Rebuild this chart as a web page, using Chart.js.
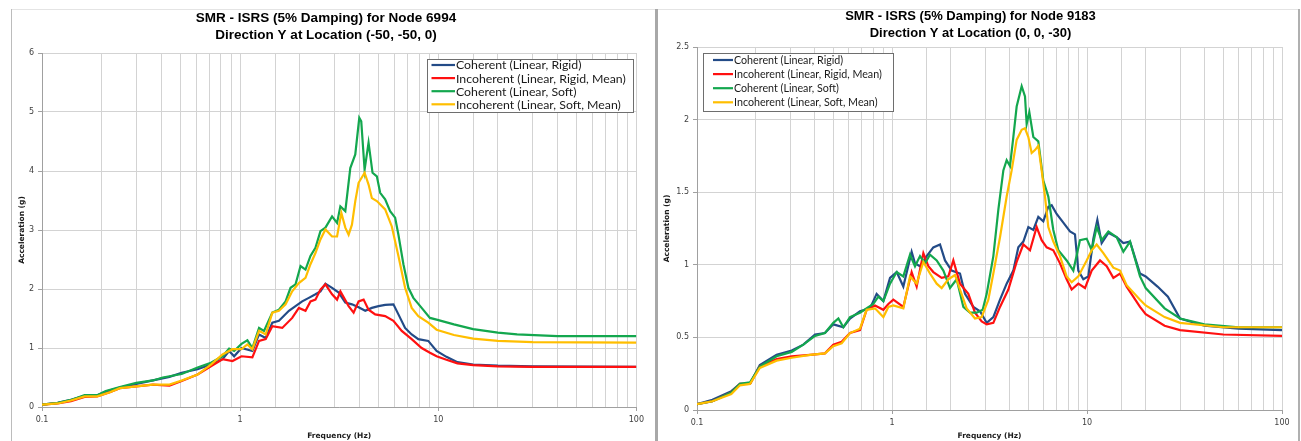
<!DOCTYPE html>
<html>
<head>
<meta charset="utf-8">
<script src="https://cdn.jsdelivr.net/npm/chart.js@4.4.0/dist/chart.umd.min.js"></script>
<style>
  html, body { margin: 0; padding: 0; background: #fff; width: 1301px; height: 441px; overflow: hidden; position: relative; }
  .rule { position: absolute; }
  canvas { position: absolute; }
</style>
</head>
<body>
<div class="rule" style="left:11px;top:9px;width:1289px;height:1px;background:#e4e4e4"></div>
<div class="rule" style="left:11px;top:9px;width:1px;height:432px;background:#bcbcbc"></div>
<div class="rule" style="left:655px;top:9px;width:3px;height:432px;background:#a8a8a8"></div>
<div class="rule" style="left:1298px;top:9px;width:2px;height:432px;background:#b0b0b0"></div>
<canvas id="node6994" width="636" height="437" style="left:12px;top:4px"></canvas>
<canvas id="node9183" width="638" height="437" style="left:659px;top:4px"></canvas>
<script>
// ---- Series labels and colours ----
const seriesLabels = [
  'Coherent (Linear, Rigid)',
  'Incoherent (Linear, Rigid, Mean)',
  'Coherent (Linear, Soft)',
  'Incoherent (Linear, Soft, Mean)'
];
const seriesColors = ['#234B87', '#FF1010', '#13A74E', '#FFBE00'];

// ---- Node 6994, direction Y at (-50, -50, 0): [frequency Hz, acceleration g] ----
const n6994CoherentRigid = [
  [0.1,0.04],[0.12,0.07],[0.14,0.12],[0.164,0.19],[0.19,0.20],[0.21,0.26],[0.247,0.33],[0.363,0.45],
  [0.44,0.51],[0.507,0.58],[0.61,0.64],[0.712,0.72],[0.815,0.81],[0.88,0.95],[0.933,0.86],[1.016,1.00],
  [1.153,0.95],[1.246,1.23],[1.346,1.17],[1.454,1.43],[1.57,1.46],[1.763,1.63],[1.904,1.71],[2.057,1.79],
  [2.222,1.85],[2.40,1.91],[2.543,1.96],[2.695,2.09],[2.911,2.02],[3.145,1.94],[3.396,1.77],[3.668,1.74],
  [3.963,1.69],[4.281,1.63],[4.624,1.68],[4.995,1.71],[5.395,1.73],[5.94,1.74],[6.295,1.57],[6.801,1.34],
  [7.345,1.23],[7.934,1.15],[8.906,1.12],[9.809,0.95],[11,0.85],[12.5,0.76],[15,0.72],[20,0.70],
  [30,0.69],[100,0.68]
];
const n6994IncoherentRigid = [
  [0.1,0.04],[0.12,0.06],[0.14,0.10],[0.164,0.17],[0.19,0.18],[0.22,0.25],[0.247,0.32],[0.363,0.38],
  [0.44,0.36],[0.507,0.44],[0.61,0.55],[0.712,0.69],[0.815,0.81],[0.915,0.78],[1.016,0.86],[1.153,0.84],
  [1.246,1.12],[1.346,1.15],[1.454,1.37],[1.632,1.34],[1.832,1.51],[1.979,1.68],[2.138,1.63],[2.265,1.79],
  [2.40,1.82],[2.543,1.99],[2.695,2.08],[2.911,1.91],[3.085,1.82],[3.206,1.96],[3.529,1.71],[3.74,1.60],
  [3.963,1.79],[4.2,1.82],[4.449,1.65],[4.806,1.57],[5.395,1.54],[5.94,1.46],[6.543,1.29],[7.345,1.15],
  [8.247,1.00],[9.081,0.92],[9.809,0.86],[11,0.80],[12.5,0.74],[15,0.71],[20,0.69],[30,0.68],[100,0.68]
];
const n6994CoherentSoft = [
  [0.1,0.04],[0.12,0.07],[0.14,0.12],[0.164,0.20],[0.19,0.20],[0.21,0.27],[0.247,0.34],[0.299,0.41],
  [0.363,0.45],[0.407,0.50],[0.507,0.56],[0.61,0.67],[0.712,0.75],[0.815,0.86],[0.88,0.99],[0.933,0.95],
  [1.016,1.07],[1.088,1.13],[1.153,1.00],[1.246,1.34],[1.32,1.29],[1.454,1.60],[1.57,1.65],[1.696,1.79],
  [1.797,2.02],[1.904,2.08],[2.018,2.39],[2.138,2.33],[2.265,2.56],[2.40,2.70],[2.543,2.98],[2.695,3.04],
  [2.911,3.23],[3.085,3.12],[3.206,3.40],[3.396,3.32],[3.598,4.05],[3.813,4.28],[3.994,4.90],[4.087,4.84],
  [4.249,4.02],[4.449,4.48],[4.66,3.97],[4.899,3.91],[5.092,3.63],[5.395,3.52],[5.717,3.32],[6.058,3.21],
  [6.295,2.92],[6.671,2.42],[7.068,2.02],[7.489,1.85],[8.247,1.68],[9.081,1.51],[9.809,1.48],[12,1.40],
  [15,1.32],[20,1.26],[25,1.23],[40,1.20],[100,1.20]
];
const n6994IncoherentSoft = [
  [0.1,0.04],[0.12,0.06],[0.14,0.11],[0.164,0.18],[0.19,0.18],[0.22,0.25],[0.247,0.32],[0.363,0.38],
  [0.44,0.38],[0.507,0.45],[0.61,0.55],[0.712,0.72],[0.815,0.89],[0.915,0.98],[1.016,0.98],[1.088,1.06],
  [1.153,0.98],[1.246,1.29],[1.346,1.23],[1.454,1.60],[1.57,1.63],[1.696,1.74],[1.832,1.96],[1.979,2.10],
  [2.138,2.19],[2.265,2.42],[2.40,2.61],[2.543,2.84],[2.695,3.01],[2.911,2.89],[3.085,2.89],[3.243,3.29],
  [3.396,3.04],[3.529,2.92],[3.668,3.09],[3.813,3.49],[3.963,3.80],[4.249,3.97],[4.449,3.77],[4.624,3.54],
  [4.899,3.49],[5.395,3.35],[5.829,3.06],[6.295,2.56],[6.801,2.02],[7.345,1.68],[7.934,1.54],[8.906,1.43],
  [9.809,1.31],[12,1.22],[15,1.16],[20,1.12],[30,1.10],[100,1.09]
];

// ---- Node 9183, direction Y at (0, 0, -30): [frequency Hz, acceleration g] ----
const n9183CoherentRigid = [
  [0.1,0.04],[0.12,0.07],[0.15,0.13],[0.166,0.18],[0.187,0.18],[0.21,0.31],[0.256,0.38],[0.306,0.41],
  [0.351,0.45],[0.403,0.52],[0.453,0.53],[0.50,0.59],[0.563,0.57],[0.609,0.63],[0.685,0.68],[0.771,0.70],
  [0.834,0.80],[0.903,0.75],[0.977,0.91],[1.057,0.95],[1.143,0.85],[1.261,1.09],[1.312,1.01],[1.392,0.99],
  [1.506,1.06],[1.629,1.12],[1.763,1.14],[1.87,1.03],[2.023,0.96],[2.232,0.94],[2.368,0.80],[2.613,0.71],
  [2.827,0.68],[3.059,0.60],[3.309,0.64],[3.58,0.76],[3.873,0.87],[4.19,0.96],[4.444,1.12],[4.716,1.16],
  [5.002,1.26],[5.306,1.24],[5.628,1.33],[5.97,1.30],[6.333,1.40],[6.587,1.41],[6.989,1.35],[7.561,1.29],
  [8.18,1.23],[8.677,1.21],[9.026,0.96],[9.576,0.90],[10.16,0.92],[10.78,1.18],[11.3,1.31],[11.89,1.15],
  [12.87,1.22],[14.2,1.19],[15.36,1.15],[16.62,1.16],[18.7,0.94],[20,0.92],[23,0.85],[26,0.78],
  [30,0.63],[40,0.58],[60,0.56],[100,0.55]
];
const n9183IncoherentRigid = [
  [0.1,0.04],[0.12,0.06],[0.15,0.12],[0.166,0.18],[0.187,0.18],[0.21,0.30],[0.256,0.35],[0.306,0.37],
  [0.38,0.38],[0.453,0.39],[0.50,0.45],[0.552,0.47],[0.609,0.53],[0.685,0.55],[0.741,0.69],[0.818,0.72],
  [0.903,0.69],[0.958,0.73],[1.016,0.76],[1.143,0.71],[1.261,0.95],[1.338,0.85],[1.448,1.08],[1.536,0.99],
  [1.629,0.95],[1.798,0.91],[1.945,0.92],[2.063,1.03],[2.232,0.87],[2.463,0.80],[2.665,0.67],[2.883,0.61],
  [3.059,0.59],[3.309,0.60],[3.58,0.71],[3.95,0.83],[4.358,1.02],[4.716,1.14],[5.101,1.10],[5.519,1.26],
  [5.854,1.17],[6.21,1.12],[6.718,1.10],[7.269,1.01],[7.864,0.90],[8.343,0.83],[9.026,0.87],[9.766,0.84],
  [10.57,0.96],[11.66,1.03],[12.62,0.99],[13.65,0.91],[14.77,0.94],[15.97,0.85],[18.7,0.71],[20,0.66],
  [25,0.58],[30,0.55],[50,0.52],[100,0.51]
];
const n9183CoherentSoft = [
  [0.1,0.04],[0.12,0.06],[0.15,0.12],[0.166,0.18],[0.187,0.19],[0.21,0.30],[0.256,0.37],[0.306,0.40],
  [0.351,0.45],[0.403,0.51],[0.453,0.53],[0.50,0.60],[0.531,0.63],[0.563,0.57],[0.609,0.64],[0.685,0.67],
  [0.802,0.73],[0.851,0.78],[0.903,0.75],[0.977,0.87],[1.057,0.95],[1.143,0.92],[1.237,1.07],[1.312,0.99],
  [1.392,1.06],[1.476,1.01],[1.566,1.07],[1.695,1.03],[1.834,0.96],[1.984,0.84],[2.146,0.90],[2.322,0.71],
  [2.512,0.67],[2.718,0.67],[2.917,0.69],[3.059,0.80],[3.309,1.06],[3.511,1.38],[3.724,1.65],[3.873,1.72],
  [4.028,1.68],[4.19,1.88],[4.358,2.09],[4.624,2.23],[4.809,2.16],[4.905,1.97],[5.062,2.05],[5.306,1.88],
  [5.628,1.85],[5.97,1.58],[6.333,1.47],[6.718,1.24],[7.128,1.10],[7.864,1.03],[8.509,0.96],[9.206,1.17],
  [9.961,1.18],[10.57,1.10],[11.21,1.26],[11.89,1.17],[12.87,1.23],[14.2,1.19],[15.36,1.09],[16.62,1.16],
  [18.7,0.92],[20,0.84],[25,0.70],[30,0.63],[40,0.59],[60,0.57],[100,0.57]
];
const n9183IncoherentSoft = [
  [0.1,0.04],[0.12,0.06],[0.15,0.11],[0.166,0.17],[0.187,0.18],[0.21,0.29],[0.256,0.34],[0.306,0.36],
  [0.38,0.38],[0.453,0.39],[0.50,0.44],[0.552,0.46],[0.609,0.53],[0.685,0.56],[0.741,0.69],[0.818,0.70],
  [0.903,0.64],[0.958,0.71],[1.016,0.72],[1.143,0.70],[1.237,0.92],[1.338,0.87],[1.448,1.02],[1.566,0.94],
  [1.695,0.87],[1.798,0.84],[1.945,0.90],[2.104,0.93],[2.232,0.83],[2.415,0.70],[2.665,0.63],[2.883,0.64],
  [3.119,0.76],[3.309,0.94],[3.58,1.19],[3.873,1.47],[4.108,1.65],[4.358,1.86],[4.624,1.93],[4.809,1.94],
  [5.002,1.88],[5.202,1.77],[5.411,1.79],[5.628,1.82],[5.854,1.65],[6.089,1.47],[6.333,1.26],[6.718,1.16],
  [7.269,1.06],[7.864,0.92],[8.343,0.88],[9.026,0.92],[9.961,1.03],[10.57,1.10],[11.21,1.14],[12.13,1.08],
  [13.65,0.98],[14.77,0.96],[15.97,0.86],[18.7,0.76],[20,0.72],[25,0.64],[30,0.60],[50,0.57],[100,0.57]
];

// ---- Axis settings ----
const freqMin = 0.1, freqMax = 100;
const freqLabelled = [0.1, 1, 10, 100];
const n6994AccMax = 6, n6994AccStep = 1;
const n9183AccMax = 2.5, n9183AccStep = 0.5;

Chart.defaults.font.family = "'DejaVu Sans', sans-serif";
Chart.defaults.color = '#404040';

// Boxed legend drawn inside the plot area, one row per dataset.
const boxLegend = {
  id: 'boxLegend',
  afterDatasetsDraw(chart, args, o) {
    const ctx = chart.ctx;
    ctx.save();
    ctx.fillStyle = '#ffffff';
    ctx.fillRect(o.x, o.y, o.w, o.h);
    ctx.strokeStyle = '#6e6e6e';
    ctx.lineWidth = 1;
    ctx.strokeRect(o.x + 0.5, o.y + 0.5, o.w, o.h);
    // fit the font so the longest label spans the requested width
    let size = 10;
    ctx.font = size + "px Lato, 'Open Sans', sans-serif";
    const longest = Math.max(...chart.data.datasets.map(d => ctx.measureText(d.label).width));
    size = size * o.textWidth / longest;
    ctx.font = size + "px Lato, 'Open Sans', sans-serif";
    ctx.textBaseline = 'middle';
    ctx.textAlign = 'left';
    chart.data.datasets.forEach((ds, i) => {
      const y = o.y + o.firstRow + i * o.rowH;
      ctx.strokeStyle = ds.borderColor;
      ctx.lineWidth = 2.2;
      ctx.beginPath();
      ctx.moveTo(o.lineX0, y);
      ctx.lineTo(o.lineX1, y);
      ctx.stroke();
      ctx.fillStyle = '#1a1a1a';
      ctx.fillText(ds.label, o.textX, y + 0.5);
    });
    ctx.restore();
  }
};

function isDecade(v) {
  const l = Math.log10(v);
  return Math.abs(l - Math.round(l)) < 1e-6;
}

function buildChart(canvasId, cfg) {
  const drawOrder = [3, 2, 1, 0]; // later series sit on top
  const datasets = cfg.series.map((pts, i) => ({
    label: seriesLabels[i],
    data: pts.map(p => ({ x: p[0], y: p[1] })),
    borderColor: seriesColors[i],
    backgroundColor: seriesColors[i],
    borderWidth: 2.2,
    pointRadius: 0,
    tension: 0,
    order: drawOrder[i]
  }));
  return new Chart(document.getElementById(canvasId), {
    type: 'line',
    data: { datasets },
    plugins: [boxLegend],
    options: {
      responsive: false,
      animation: false,
      devicePixelRatio: 1,
      layout: { padding: { left: 0, right: cfg.padRight, top: 0, bottom: 0 } },
      plugins: {
        legend: { display: false },
        tooltip: { enabled: false },
        title: {
          display: true,
          text: cfg.title,
          color: '#000',
          font: { family: "'Liberation Sans', Arial, sans-serif", size: cfg.titleSize, weight: 'bold', lineHeight: cfg.titleLine },
          padding: { top: cfg.titlePadTop, bottom: cfg.titlePadBottom }
        },
        boxLegend: cfg.legend
      },
      scales: {
        x: {
          type: 'logarithmic',
          min: freqMin,
          max: freqMax,
          afterFit: s => { s.height = cfg.xAxisHeight; },
          border: { color: '#a0a0a0' },
          grid: {
            color: '#d3d3d3',
            lineWidth: 1,
            tickLength: 4,
            tickColor: c => (c.tick && isDecade(c.tick.value)) ? '#a0a0a0' : 'rgba(0,0,0,0)'
          },
          ticks: {
            autoSkip: false,
            maxRotation: 0,
            padding: 4,
            font: { size: 8 },
            callback: v => freqLabelled.some(d => Math.abs(d - v) < 1e-9) ? String(v) : ''
          },
          title: {
            display: true,
            text: 'Frequency (Hz)',
            color: '#1a1a1a',
            font: { size: 7.5, weight: 'bold' },
            padding: { top: 0, bottom: 0.5 }
          }
        },
        y: {
          min: 0,
          max: cfg.yMax,
          afterFit: s => { s.width = cfg.yAxisWidth; },
          border: { color: '#a0a0a0' },
          grid: { color: '#d3d3d3', lineWidth: 1, tickLength: 4, tickColor: '#a0a0a0' },
          ticks: {
            stepSize: cfg.yStep,
            padding: 4,
            font: { size: 8 },
            callback: v => String(Math.round(v * 100) / 100)
          },
          title: {
            display: true,
            text: 'Acceleration (g)',
            color: '#1a1a1a',
            font: { size: 7.5, weight: 'bold' },
            padding: { top: cfg.yTitlePad, bottom: 0 }
          }
        }
      }
    }
  });
}

buildChart('node6994', {
  title: ['SMR - ISRS (5% Damping) for Node 6994', 'Direction Y at Location (-50, -50, 0)'],
  series: [n6994CoherentRigid, n6994IncoherentRigid, n6994CoherentSoft, n6994IncoherentSoft],
  yMax: n6994AccMax, yStep: n6994AccStep,
  titleSize: 13.5, titleLine: 17 / 13.5, titlePadTop: 5.5, titlePadBottom: 9.5,
  yAxisWidth: 30, xAxisHeight: 34, padRight: 8, yTitlePad: 5.2,
  legend: { x: 415, y: 55, w: 206, h: 53, firstRow: 6, rowH: 13.1, lineX0: 419.5, lineX1: 443, textX: 444, textWidth: 170 }
});

buildChart('node9183', {
  title: ['SMR - ISRS (5% Damping) for Node 9183', 'Direction Y at Location (0, 0, -30)'],
  series: [n9183CoherentRigid, n9183IncoherentRigid, n9183CoherentSoft, n9183IncoherentSoft],
  yMax: n9183AccMax, yStep: n9183AccStep,
  titleSize: 13, titleLine: 17 / 13, titlePadTop: 3.5, titlePadBottom: 5.5,
  yAxisWidth: 38, xAxisHeight: 31, padRight: 15, yTitlePad: 3.2,
  legend: { x: 44, y: 49, w: 190, h: 58, firstRow: 7, rowH: 14.1, lineX0: 54, lineX1: 74, textX: 75, textWidth: 148 }
});
</script>
</body>
</html>
